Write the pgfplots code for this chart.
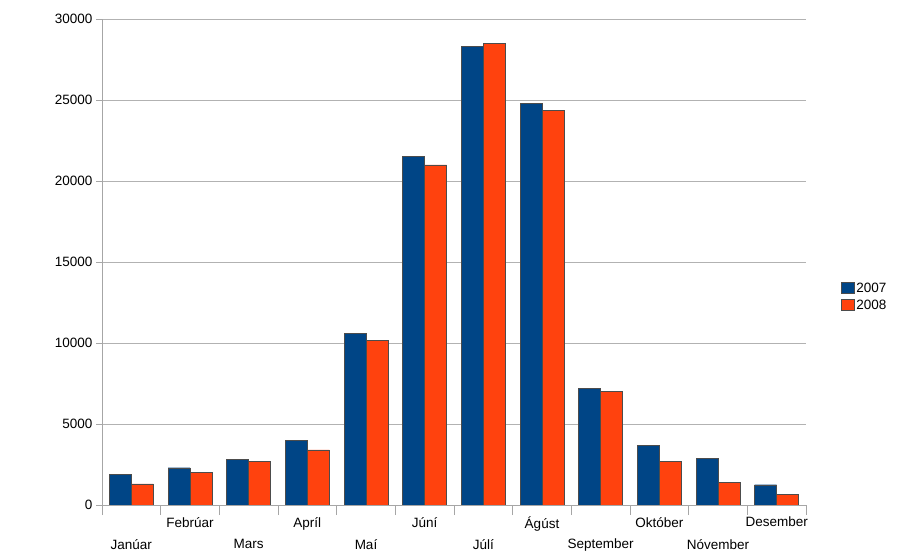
\documentclass[border=0pt]{standalone}
\usepackage{pgfplots}
\pgfplotsset{compat=1.18}
\usepackage{fontspec}
\setmainfont{Liberation Sans}
\definecolor{c7}{HTML}{004586}
\definecolor{c8}{HTML}{FF420E}
\begin{document}
\begin{tikzpicture}
\begin{axis}[
  scale only axis, width=704pt, height=486pt,
  ybar=0pt, bar width=22pt,
  xmin=-0.5, xmax=11.5, ymin=0, ymax=30000,
  ytick={0,5000,...,30000},
  scaled y ticks=false,
  /pgf/number format/assume math mode=true,
  /pgf/number format/1000 sep={},
  yticklabel style={font=\fontsize{13.5}{15}\selectfont},
  ymajorgrids, grid style={gray!60},
  axis x line*=bottom, axis y line*=left,
  axis line style={gray!70,-},
  every tick/.style={gray!70},
  ytick style={draw=gray!70}, tick align=outside, major tick length=6pt,
  xtick={1,3,5,7,9,11},
  xticklabels={Febrúar,Apríl,Júní,Ágúst,Október,Desember},
  xtick style={draw=none},
  extra x ticks={0,2,4,6,8,10},
  extra x tick labels={Janúar,Mars,Maí,Júlí,September,Nóvember},
  extra x tick style={xticklabel style={yshift=-22pt}, tick style={draw=none}, grid=none},
  minor xtick={-0.5,0.5,...,11.5},
  minor tick length=10pt,
  minor x tick style={draw=gray!70},
  xticklabel style={font=\fontsize{13.5}{15}\selectfont, inner sep=1pt, yshift=-5pt},
  legend style={at={(1.045,0.428)},anchor=west,draw=none,fill=none,font=\fontsize{13.5}{15}\selectfont, row sep=2pt},
  legend image code/.code={\draw[#1] (0pt,-5pt) rectangle (13pt,6pt);},
]
\addplot[fill=c7, draw=black!70, line width=0.4pt] coordinates {(0,1900)(1,2300)(2,2800)(3,4000)(4,10600)(5,21500)(6,28300)(7,24800)(8,7200)(9,3700)(10,2900)(11,1250)};
\addplot[fill=c8, draw=black!70, line width=0.4pt] coordinates {(0,1300)(1,2000)(2,2700)(3,3400)(4,10150)(5,21000)(6,28500)(7,24350)(8,7000)(9,2700)(10,1400)(11,650)};
\legend{2007,2008}
\end{axis}
\path[use as bounding box] (-102pt,-51pt) rectangle (802pt,505pt);
\end{tikzpicture}
\end{document}
